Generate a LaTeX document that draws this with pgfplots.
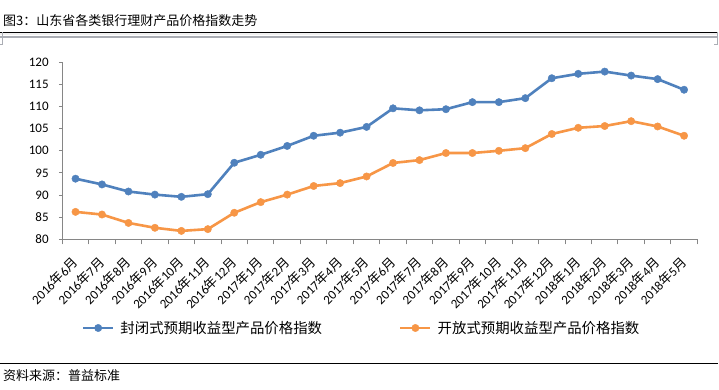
\documentclass[border=0pt]{standalone}
\usepackage{fontspec}
\usepackage{pgfplots}
\pgfplotsset{compat=1.18}
\setmainfont{Carlito}
\newfontfamily\cjk{Noto Sans CJK SC}
\definecolor{sblue}{HTML}{4F81BD}
\definecolor{sorange}{HTML}{F79646}
\definecolor{axgray}{HTML}{868686}
\definecolor{rulegray}{RGB}{170,173,180}
\newcommand\ym[2]{#1{\cjk 年}#2{\cjk 月}}
\begin{document}
\begin{tikzpicture}[x=1pt,y=1pt]
\useasboundingbox[fill=white] (0pt,0pt) rectangle (719pt,389pt);
\node[anchor=west, inner sep=0pt, font=\cjk\fontsize{13}{15}\selectfont] at (3pt,368.5pt) {图3：山东省各类银行理财产品价格指数走势};
\fill[black!6] (0pt,353.5pt) rectangle (718pt,356.2pt);
\draw[black, line width=1pt] (0pt,356.7pt) -- (718pt,356.7pt);
\draw[rulegray, line width=2pt] (0pt,351.7pt) -- (718pt,351.7pt);
\draw[rulegray, line width=0.7pt] (0pt,345pt) -- (2.7pt,345pt) -- (2.7pt,356.5pt);
\draw[rulegray, line width=0.7pt] (714pt,345pt) -- (717.3pt,345pt) -- (717.3pt,356.5pt);
\draw[black, line width=1pt] (0pt,25.3pt) -- (718pt,25.3pt);
\node[anchor=west, inner sep=0pt, font=\cjk\fontsize{13}{15}\selectfont] at (3pt,13pt) {资料来源：普益标准};
\begin{axis}[
  at={(62.3pt,149.7pt)}, anchor=south west, scale only axis,
  width=635pt, height=177pt,
  xmin=-0.5, xmax=23.5, ymin=80, ymax=120,
  ytick={80,85,...,120},
  xtick={0,...,23},
  minor xtick={-0.5,0.5,...,23.5},
  xticklabels={\ym{2016}{6},\ym{2016}{7},\ym{2016}{8},\ym{2016}{9},\ym{2016}{10},\ym{2016}{11},\ym{2016}{12},
    \ym{2017}{1},\ym{2017}{2},\ym{2017}{3},\ym{2017}{4},\ym{2017}{5},\ym{2017}{6},\ym{2017}{7},\ym{2017}{8},\ym{2017}{9},\ym{2017}{10},\ym{2017}{11},\ym{2017}{12},
    \ym{2018}{1},\ym{2018}{2},\ym{2018}{3},\ym{2018}{4},\ym{2018}{5}},
  axis x line*=bottom, axis y line*=left,
  axis line style={axgray, line width=1pt, -},
  tick align=outside,
  major tick length=3.5pt, minor tick length=5pt,
  major x tick style={draw=none},
  minor x tick style={axgray, line width=1pt},
  y tick style={axgray, line width=1pt},
  /pgf/number format/assume math mode=true,
  yticklabel style={font=\fontsize{13}{15}\selectfont, inner sep=0pt, anchor=east},
  yticklabel shift=10pt,
  xticklabel style={font=\fontsize{13}{15}\selectfont, inner sep=0pt, rotate=45, anchor=east},
  xticklabel shift=17pt,
  legend style={at={(0.03055,-0.5011)}, anchor=west, draw=none, fill=none, inner sep=0pt,
    legend columns=2, legend cell align=left,
    nodes={inner sep=0pt, font=\cjk\fontsize{14.4}{16}\selectfont},
    /tikz/every odd column/.append style={column sep=6pt},
    /tikz/every even column/.append style={column sep=77pt}},
  legend image code/.code={\draw[mark repeat=2,mark phase=2,#1] plot coordinates {(0pt,0pt) (15pt,0pt) (30pt,0pt)};},
]
\addplot[sblue, line width=2.6pt, mark=*, mark size=3.7pt, mark options={solid, fill=sblue, draw=sblue, line width=0.4pt}] coordinates {
(0,93.7) (1,92.4) (2,90.8) (3,90.1) (4,89.6) (5,90.2) (6,97.3) (7,99.1) (8,101.1) (9,103.4) (10,104.1) (11,105.4)
(12,109.6) (13,109.15) (14,109.4) (15,111.0) (16,111.0) (17,111.9) (18,116.4) (19,117.4) (20,117.9) (21,117.0) (22,116.2) (23,113.8)};
\addlegendentry{封闭式预期收益型产品价格指数}
\addplot[sorange, line width=2.6pt, mark=*, mark size=3.7pt, mark options={solid, fill=sorange, draw=sorange, line width=0.4pt}] coordinates {
(0,86.2) (1,85.6) (2,83.7) (3,82.6) (4,81.9) (5,82.3) (6,86.0) (7,88.4) (8,90.1) (9,92.05) (10,92.7) (11,94.2)
(12,97.25) (13,97.9) (14,99.5) (15,99.5) (16,100.0) (17,100.6) (18,103.8) (19,105.2) (20,105.6) (21,106.7) (22,105.5) (23,103.4)};
\addlegendentry{开放式预期收益型产品价格指数}
\end{axis}
\end{tikzpicture}
\end{document}
